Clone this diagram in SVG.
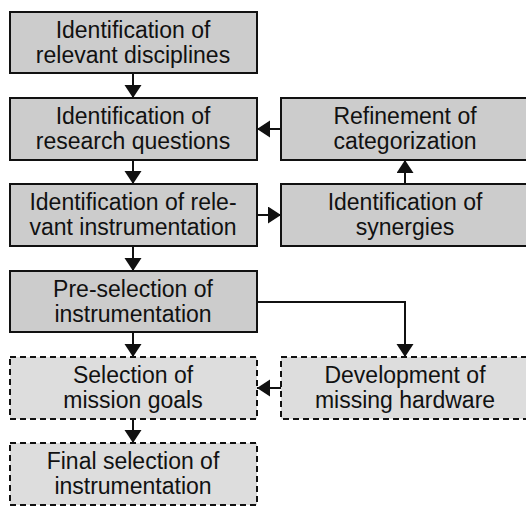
<svg xmlns="http://www.w3.org/2000/svg" width="526" height="506" viewBox="0 0 526 506">
<style>
.box{fill:#cccccc;stroke:#111;stroke-width:2}
.dash{fill:#dddddd;stroke:#111;stroke-width:2;stroke-dasharray:6 4}
text{font-family:"Liberation Sans",Arial,sans-serif;font-size:23px;fill:#111;text-anchor:middle}
.c line,.c polyline{stroke:#111;stroke-width:2;fill:none;marker-end:url(#ah)}
</style>
<defs>
<marker id="ah" markerUnits="userSpaceOnUse" markerWidth="14" markerHeight="18" refX="13" refY="8.5" orient="auto" viewBox="0 0 14 18">
<path d="M0,0 L13,8.5 L0,17 z" fill="#111"/>
</marker>
</defs>
<g class="c" id="connectors">
<line x1="133" y1="73" x2="133" y2="98"/>
<line x1="133" y1="160" x2="133" y2="184"/>
<line x1="133" y1="246" x2="133" y2="271"/>
<line x1="133" y1="332" x2="133" y2="357"/>
<line x1="133" y1="419" x2="133" y2="443"/>
<line x1="281" y1="129" x2="257" y2="129"/>
<line x1="257" y1="215" x2="281" y2="215"/>
<line x1="405" y1="184" x2="405" y2="160"/>
<polyline points="257,302 405,302 405,357"/>
<line x1="281" y1="388" x2="257" y2="388"/>
</g>
<g id="n1"><rect class="box" x="10" y="12" width="247" height="61"/><text x="133" y="38">Identification of</text><text x="133" y="63">relevant disciplines</text></g>
<g id="n2"><rect class="box" x="10" y="98" width="247" height="62"/><text x="133" y="124">Identification of</text><text x="133" y="149">research questions</text></g>
<g id="n3"><rect class="box" x="10" y="184" width="247" height="62"/><text x="133" y="210">Identification of rele-</text><text x="133" y="235">vant instrumentation</text></g>
<g id="n4"><rect class="box" x="10" y="271" width="247" height="61"/><text x="133" y="297">Pre-selection of</text><text x="133" y="322">instrumentation</text></g>
<g id="n5"><rect class="dash" x="10" y="357" width="247" height="62"/><text x="133" y="383">Selection of</text><text x="133" y="408">mission goals</text></g>
<g id="n6"><rect class="dash" x="10" y="443" width="247" height="62"/><text x="133" y="469">Final selection of</text><text x="133" y="494">instrumentation</text></g>
<g id="n7"><rect class="box" x="281" y="98" width="248" height="62"/><text x="405" y="124">Refinement of</text><text x="405" y="149">categorization</text></g>
<g id="n8"><rect class="box" x="281" y="184" width="248" height="62"/><text x="405" y="210">Identification of</text><text x="405" y="235">synergies</text></g>
<g id="n9"><rect class="dash" x="281" y="357" width="248" height="62"/><text x="405" y="383">Development of</text><text x="405" y="408">missing hardware</text></g>
</svg>
